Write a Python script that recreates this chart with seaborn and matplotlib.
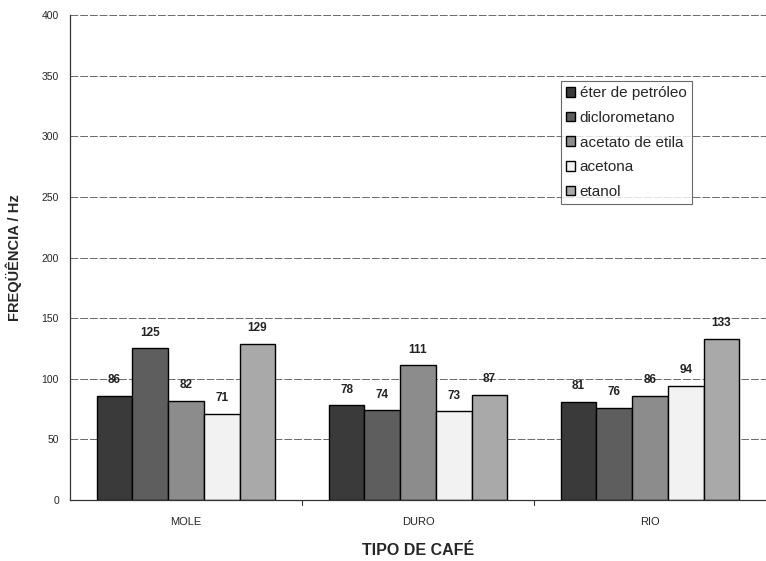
import matplotlib
matplotlib.use("Agg")
import matplotlib.pyplot as plt
import seaborn as sns
import pandas as pd

categories = ["MOLE", "DURO", "RIO"]
solvents = ["éter de petróleo", "diclorometano", "acetato de etila", "acetona", "etanol"]
eter = [86, 78, 81]
dicloro = [125, 74, 76]
acetato = [82, 111, 86]
acetona = [71, 73, 94]
etanol = [129, 87, 133]
yticks = [0, 50, 100, 150, 200, 250, 300, 350, 400]

series = [eter, dicloro, acetato, acetona, etanol]
rows = []
for s, vals in zip(solvents, series):
    for c, v in zip(categories, vals):
        rows.append({"cat": c, "solv": s, "val": v})
df = pd.DataFrame(rows)

sns.set_theme(style="white")
plt.rcParams['font.family'] = ['Liberation Sans', 'DejaVu Sans']

colors = ["#3a3a3a", "#5e5e5e", "#8c8c8c", "#f2f2f2", "#a9a9a9"]

fig = plt.figure(figsize=(7.66, 5.61), dpi=100)
ax = fig.add_axes([70/766, 61/561, 696/766, 485/561])

sns.barplot(data=df, x="cat", y="val", hue="solv", order=categories,
            hue_order=solvents, palette=colors, width=0.77,
            edgecolor="black", linewidth=1.0, ax=ax, saturation=1)

for cont in ax.containers:
    ax.bar_label(cont, fmt="%d", padding=7, fontsize=8.5, fontweight="bold", color="#222222")

ax.set_ylim(0, 400)
ax.set_yticks(yticks)
ax.set_yticklabels([str(t) for t in yticks], fontsize=7.5)
ax.set_xlim(-0.5, 2.5)
ax.tick_params(axis="x", labelsize=8, length=0, pad=12)
ax.tick_params(axis="y", length=3, direction="in", pad=8)
ax.yaxis.grid(True, color="#6a6a6a", linestyle=(0, (8, 2)), linewidth=0.7)
ax.set_axisbelow(True)
for sp in ["top", "right"]:
    ax.spines[sp].set_visible(False)
ax.spines["left"].set_color("#333333")
ax.spines["bottom"].set_color("#333333")
ax.spines["left"].set_linewidth(0.9)
ax.spines["bottom"].set_linewidth(0.9)

for xb in [0.5, 1.5]:
    ax.plot([xb, xb], [0, -4], color="#333333", lw=0.8, clip_on=False)

ax.set_xlabel("TIPO DE CAFÉ", fontsize=11.5, fontweight="bold", labelpad=12)
ax.set_ylabel("FREQÜÊNCIA / Hz", fontsize=10.5, fontweight="bold", labelpad=14)

leg = ax.legend(loc="upper left", bbox_to_anchor=(0.694, 0.880), fontsize=11,
                frameon=True, fancybox=False, edgecolor="#444444",
                handlelength=0.6, handleheight=0.6, handletextpad=0.3,
                labelspacing=0.7, borderpad=0.35, title=None)
leg.get_frame().set_linewidth(0.8)

fig.savefig("out.png", dpi=100, facecolor="white")
